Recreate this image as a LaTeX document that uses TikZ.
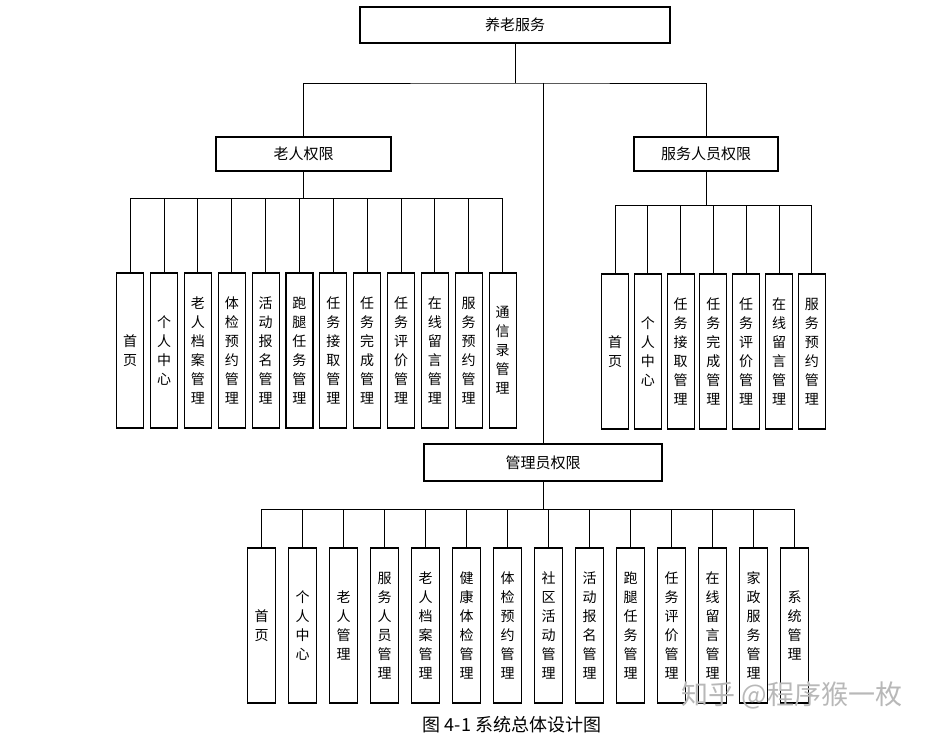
\documentclass[tikz,border=0pt]{standalone}
\usepackage{fontspec}
\setmainfont{Noto Sans CJK SC}

\begin{document}
\begin{tikzpicture}[x=1pt,y=-1pt,
		box/.style={draw,line width=1.1pt,inner sep=0pt,font=\fontsize{15}{18}\selectfont},
		leaf/.style={draw,line width=1.1pt,inner sep=0pt,minimum width=27pt,minimum height=155pt,align=center,font=\fontsize{14}{19}\selectfont},
		wire/.style={line width=0.9pt}]
	\useasboundingbox (0,0) rectangle (930,735);

	\node[box,minimum width=310pt,minimum height=36pt] (root) at (515,25) {养老服务};
	\node[box,minimum width=175pt,minimum height=34pt] (old) at (303.5,154) {老人权限};
	\node[box,minimum width=144pt,minimum height=34pt] (staff) at (706,154) {服务人员权限};
	\node[box,minimum width=238pt,minimum height=37pt] (admin) at (543,462.5) {管理员权限};

	\coordinate (hub) at (515,83);
	\coordinate (lbus) at (304,198.5);
	\coordinate (rbus) at (706.7,205);
	\coordinate (mbus) at (543,509);

	\draw[wire] (root.south) -- (hub);
	\draw[wire] (old.north) |- (hub) -| (staff.north);
	\draw[wire] (hub -| admin.north) -- (admin.north);
	\draw[wire] (old.south) -- (old.south |- lbus);
	\draw[wire] (staff.south -| rbus) -- (rbus);
	\draw[wire] (admin.south) -- (mbus);

	\foreach \t [count=\i] in {{首\\页},{个\\人\\中\\心},{老\\人\\档\\案\\管\\理},{体\\检\\预\\约\\管\\理},{活\\动\\报\\名\\管\\理},{跑\\腿\\任\\务\\管\\理},{任\\务\\接\\取\\管\\理},{任\\务\\完\\成\\管\\理},{任\\务\\评\\价\\管\\理},{在\\线\\留\\言\\管\\理},{服\\务\\预\\约\\管\\理},{通\\信\\录\\管\\理}} {
		\node[leaf] (l\i) at ({130.2+(\i-1)*33.85},350.5) {\t};
		\draw[wire] (l\i.north) -- (l\i.north |- lbus);
	};
	\draw[wire] (l1.north |- lbus) -- (l12.north |- lbus);

	\foreach \t [count=\i] in {{首\\页},{个\\人\\中\\心},{任\\务\\接\\取\\管\\理},{任\\务\\完\\成\\管\\理},{任\\务\\评\\价\\管\\理},{在\\线\\留\\言\\管\\理},{服\\务\\预\\约\\管\\理}} {
		\node[leaf] (r\i) at ({615+(\i-1)*32.8},351.5) {\t};
		\draw[wire] (r\i.north) -- (r\i.north |- rbus);
	};
	\draw[wire] (r1.north |- rbus) -- (r7.north |- rbus);

	\foreach \t [count=\i] in {{首\\页},{个\\人\\中\\心},{老\\人\\管\\理},{服\\务\\人\\员\\管\\理},{老\\人\\档\\案\\管\\理},{健\\康\\体\\检\\管\\理},{体\\检\\预\\约\\管\\理},{社\\区\\活\\动\\管\\理},{活\\动\\报\\名\\管\\理},{跑\\腿\\任\\务\\管\\理},{任\\务\\评\\价\\管\\理},{在\\线\\留\\言\\管\\理},{家\\政\\服\\务\\管\\理},{系\\统\\管\\理}} {
		\node[leaf,minimum width=28pt] (m\i) at ({261.5+(\i-1)*41},625.5) {\t};
		\draw[wire] (m\i.north) -- (m\i.north |- mbus);
	};
	\draw[wire] (m1.north |- mbus) -- (m14.north |- mbus);

	\node[text=black!28,font=\fontsize{27}{27}\selectfont] (mark) at (792,695) {知乎 @程序猴一枚};
	\node[anchor=base,inner sep=0pt,font=\fontsize{18}{18}\selectfont] (cap) at (512,731.5) {图 4-1 系统总体设计图};
\end{tikzpicture}
\end{document}
